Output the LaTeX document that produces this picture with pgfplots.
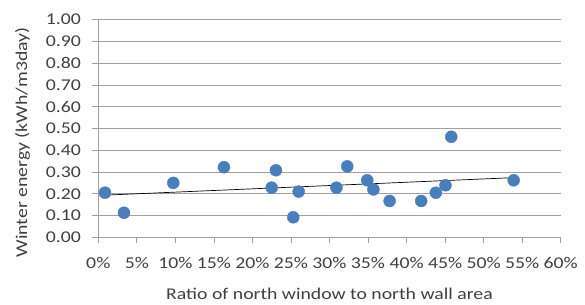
\documentclass[border=0pt]{standalone}
\usepackage{fontspec}
\setmainfont{Carlito}[FakeStretch=1.2]
\usepackage{pgfplots}
\usepackage{pgfplotstable}
\pgfplotsset{compat=1.18}
\definecolor{ptblue}{HTML}{4A7EBB}
\definecolor{gridgray}{HTML}{A0A0A0}
\definecolor{txt}{HTML}{404040}
\pgfplotstableread{
x y
0.87 0.205
3.33 0.113
9.73 0.250
16.3 0.322
22.5 0.228
23.05 0.308
25.3 0.092
26.0 0.210
30.9 0.228
32.3 0.326
34.9 0.262
35.7 0.220
37.8 0.167
41.9 0.167
43.8 0.205
45.05 0.239
45.8 0.462
53.9 0.262
}\data
\begin{document}
\begin{tikzpicture}
\useasboundingbox (-98.3bp,-67.7bp) rectangle (486.7bp,237.3bp);
\begin{axis}[
  at={(0,0)}, anchor=south west,
  scale only axis,
  width=462.4bp, height=217.6bp,
  xmin=0, xmax=60, ymin=0, ymax=1,
  xtick distance=5, ytick distance=0.1,
  axis x line=bottom, axis y line=left,
  axis line style={-, draw=gridgray, line width=0.8pt},
  ymajorgrids, grid style={draw=gridgray, line width=0.8pt},
  tick align=outside,
  major tick length=6bp,
  tick style={draw=gridgray, line width=0.8pt},
  /pgf/number format/assume math mode=true,
  ticklabel style={font=\fontsize{16.5}{19}\selectfont, text=txt},
  xticklabel style={yshift=-10bp},
  yticklabel style={xshift=-8bp, /pgf/number format/.cd, fixed, fixed zerofill, precision=2},
  xticklabel={\pgfmathprintnumber[fixed,precision=0]{\tick}\%},
  xlabel={Ratio of north window to north wall area},
  ylabel={Winter energy (kWh/m3day)},
  label style={font=\fontsize{16.5}{19}\selectfont, text=txt},
  xlabel style={yshift=-13bp},
  ylabel style={yshift=9bp, xshift=-14bp},
  clip=false,
]
\addplot[only marks, mark=*, mark size=6bp, mark options={fill=ptblue, draw=ptblue}] table[x=x,y=y] {\data};
\addplot[black, line width=0.7pt, no markers] table[x=x, y={create col/linear regression={y=y}}] {\data};
\end{axis}
\end{tikzpicture}
\end{document}
